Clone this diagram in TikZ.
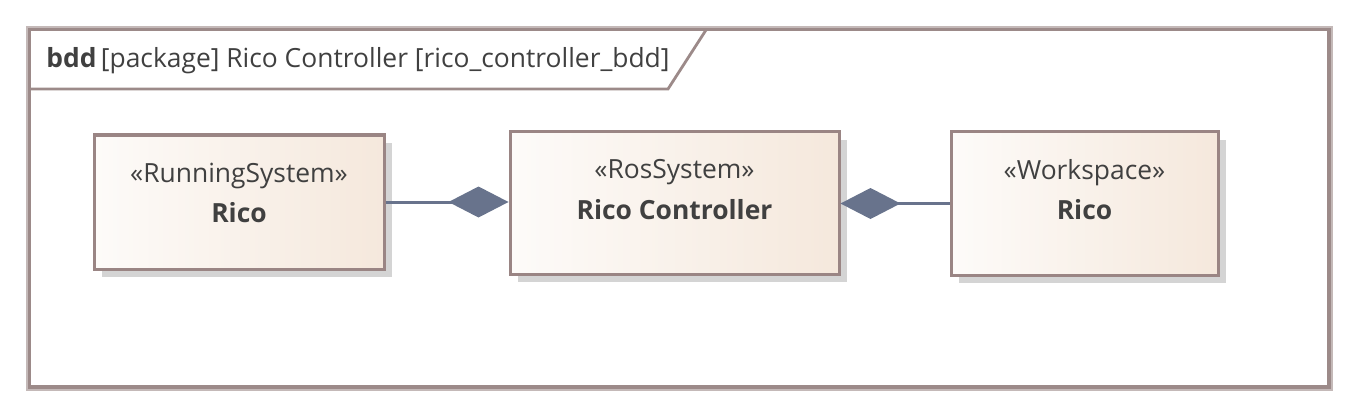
\documentclass[tikz,border=0pt]{standalone}
\usepackage{fontspec}
\setmainfont{Open Sans}
\usetikzlibrary{arrows.meta,shadows}
\definecolor{framec}{HTML}{9C8A89}
\definecolor{boxc}{HTML}{9A8584}
\definecolor{linkc}{HTML}{68738C}
\definecolor{txtc}{HTML}{404040}
\definecolor{fillL}{HTML}{FDFBF9}
\definecolor{fillR}{HTML}{F5E8DC}
\definecolor{shad}{HTML}{D4D4D4}
\tikzset{
  block/.style={draw=boxc, line width=1.5pt, left color=fillL, right color=fillR,
    general shadow={fill=shad, shadow xshift=4pt, shadow yshift=-4pt}, inner sep=0pt},
  stereo/.style={text=txtc, font=\fontsize{13.2pt}{16pt}\selectfont, inner sep=0pt},
  bname/.style={text=txtc, font=\fontsize{13.2pt}{16pt}\selectfont\bfseries, inner sep=0pt},
  comp/.style={draw=linkc, line width=1.5pt, -{Diamond[length=30pt,width=15.5pt,fill=linkc]}},
}
\begin{document}
\begin{tikzpicture}[x=0.5pt,y=-0.5pt]
\useasboundingbox (0,0) rectangle (1359,417);
% frame
\draw[draw=framec!60, line width=2.2pt] (28,28) rectangle (1331,389);
\draw[draw=framec, line width=1.6pt] (29.5,29.5) rectangle (1329,387);
\draw[draw=framec, line width=1.4pt] (30,89) coordinate (tabA) -- (668,89) coordinate (tabB) -- (706,30) coordinate (tabC);
\node[anchor=base west, text=txtc, inner sep=0pt, font=\fontsize{13.2pt}{16pt}\selectfont] (hdr) at (46,68) {\textbf{bdd}\,[package] Rico Controller [rico\_controller\_bdd]};
% blocks
\node[block, minimum width=145pt, minimum height=67pt] (b1) at (239,202) {};
\node[block, minimum width=164.5pt, minimum height=71pt] (b2) at (674.5,203) {};
\node[block, minimum width=133.5pt, minimum height=71.5pt] (b3) at (1084.5,203.5) {};
\node[stereo] (s1) at ([yshift=-21pt]b1.north) {«RunningSystem»};
\node[bname] (n1) at ([yshift=-39.5pt]b1.north) {Rico};
\node[stereo] (s2) at ([yshift=-21pt]b2.north) {«RosSystem»};
\node[bname] (n2) at ([yshift=-39.5pt]b2.north) {Rico Controller};
\node[stereo] (s3) at ([yshift=-21pt]b3.north) {«Workspace»};
\node[bname] (n3) at ([yshift=-39.5pt]b3.north) {Rico};
% connectors
\draw[comp] (b1.east) -- (b2.west |- b1.east);
\draw[comp] (b3.west) -- (b2.east |- b3.west);
\end{tikzpicture}
\end{document}
